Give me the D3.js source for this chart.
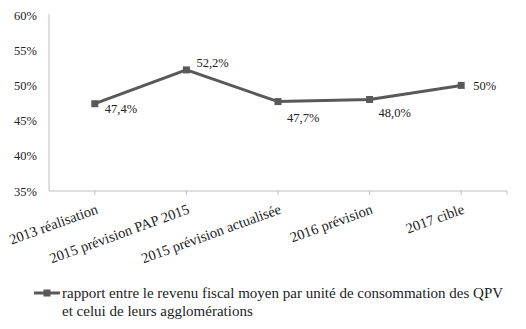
<!DOCTYPE html>
<html>
<head>
<meta charset="utf-8">
<script src="https://cdn.jsdelivr.net/npm/d3@7"></script>
<style>
  body { margin: 0; background: #fff; }
  svg { display: block; font-family: "Liberation Serif", serif; }
</style>
</head>
<body>
<div id="chart"></div>
<script>
// données du graphique
const categories = ["2013 réalisation", "2015 prévision PAP 2015", "2015 prévision actualisée", "2016 prévision", "2017 cible"];
const values = [47.4, 52.2, 47.7, 48.0, 50];
const valueLabels = ["47,4%", "52,2%", "47,7%", "48,0%", "50%"];
const yTicks = [35, 40, 45, 50, 55, 60];
const seriesName = ["rapport entre le revenu fiscal moyen par unité de consommation des QPV", "et celui de leurs agglomérations"];

// placement des étiquettes (comme dans l'original)
const labelOffsets = [[10, 5], [10, -7], [9, 16], [9, 13], [12, 0]];

const width = 526, height = 329;
const plotLeft = 49, plotRight = 507, plotTop = 15, plotBottom = 191;
const lineColor = "#595959";

const svg = d3.select("#chart").append("svg")
  .attr("width", width)
  .attr("height", height);

const x = d3.scaleBand().domain(categories).range([plotLeft, plotRight]);
const y = d3.scaleLinear().domain([35, 60]).range([plotBottom, plotTop]);

// axe vertical
const yAxis = svg.append("g")
  .attr("transform", `translate(${plotLeft},0)`)
  .call(d3.axisLeft(y).tickValues(yTicks).tickSize(0).tickPadding(12).tickFormat(d => d + "%"));
yAxis.select(".domain").attr("stroke", "#bfbfbf").attr("d", `M0,${plotTop - 1}V${plotBottom}`);
yAxis.selectAll("text").attr("font-size", 12.5).attr("font-family", "Liberation Serif").attr("fill", "#222");

// axe horizontal
const xAxis = svg.append("g")
  .attr("transform", `translate(0,${plotBottom})`);
xAxis.append("line")
  .attr("x1", plotLeft).attr("x2", plotRight)
  .attr("stroke", "#bfbfbf");
xAxis.selectAll("line.tick")
  .data(categories.map(c => x(c) + x.bandwidth() / 2).concat([plotRight]))
  .join("line")
  .attr("class", "tick")
  .attr("x1", d => d).attr("x2", d => d)
  .attr("y1", 0).attr("y2", 4)
  .attr("stroke", "#bfbfbf");
xAxis.selectAll("text")
  .data(categories)
  .join("text")
  .attr("text-anchor", "end")
  .attr("font-size", 14.5)
  .attr("fill", "#222")
  .attr("transform", d => `translate(${x(d) + x.bandwidth() / 2 + 4},${22}) rotate(-20)`)
  .text(d => d);

// la série
const pts = categories.map((c, i) => [x(c) + x.bandwidth() / 2, y(values[i])]);

svg.append("path")
  .attr("d", d3.line()(pts))
  .attr("fill", "none")
  .attr("stroke", lineColor)
  .attr("stroke-width", 3);

svg.append("g")
  .selectAll("rect")
  .data(pts)
  .join("rect")
  .attr("x", d => d[0] - 3.5)
  .attr("y", d => d[1] - 3.5)
  .attr("width", 7)
  .attr("height", 7)
  .attr("fill", lineColor);

svg.append("g")
  .selectAll("text")
  .data(pts)
  .join("text")
  .attr("x", (d, i) => d[0] + labelOffsets[i][0])
  .attr("y", (d, i) => d[1] + labelOffsets[i][1])
  .attr("dy", "0.35em")
  .attr("font-size", 12.5)
  .attr("fill", "#222")
  .text((d, i) => valueLabels[i]);

// légende
const legend = svg.append("g").attr("transform", "translate(34,293)");
legend.append("line")
  .attr("x1", 0).attr("x2", 26)
  .attr("stroke", lineColor).attr("stroke-width", 3);
legend.append("rect")
  .attr("x", 9.5).attr("y", -3.5).attr("width", 7).attr("height", 7)
  .attr("fill", lineColor);
legend.selectAll("text")
  .data(seriesName)
  .join("text")
  .attr("x", 28)
  .attr("y", (d, i) => 5 + i * 18)
  .attr("font-size", 15)
  .attr("fill", "#222")
  .text(d => d);
</script>
</body>
</html>
